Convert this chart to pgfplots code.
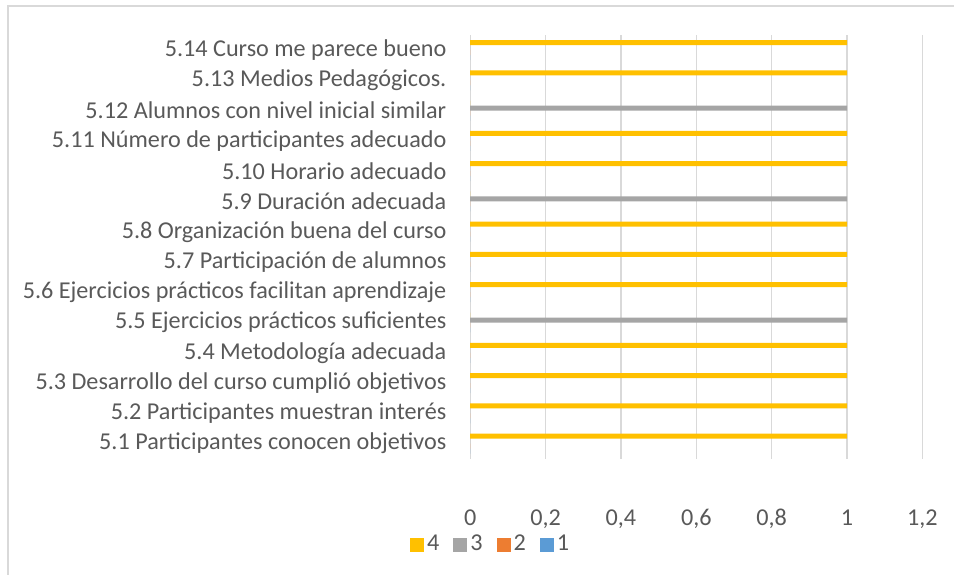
\documentclass[border=0pt]{standalone}
\usepackage{fontspec}
\setmainfont{Carlito}
\usepackage{pgfplots}
\pgfplotsset{compat=1.18}
\definecolor{cfour}{HTML}{FFC000}
\definecolor{cthree}{HTML}{A5A5A5}
\definecolor{ctwo}{HTML}{ED7D31}
\definecolor{cone}{HTML}{5B9BD5}
\definecolor{textc}{HTML}{595959}
\definecolor{gridc}{HTML}{D9D9D9}
\begin{document}
\begin{tikzpicture}[x=0.5pt,y=0.5pt]
\path (0,0) rectangle (955,575);
\draw[gridc, line width=0.6pt] (8,0) -- (8,569) -- (955,569);
\begin{axis}[
    at={(235.25pt,58pt)}, anchor=south west,
    scale only axis, width=226.25pt, height=212pt,
    xbar, bar width=2.5pt,
    xmin=0, xmax=1.2, ymin=0.5, ymax=14.5,
    xtick={0,0.2,0.4,0.6,0.8,1,1.2},
    xticklabels={0,{0,2},{0,4},{0,6},{0,8},1,{1,2}},
    ytick={1,...,14},
    yticklabels={5.1 Participantes conocen objetivos,
                 5.2 Participantes muestran interés,
                 5.3 Desarrollo del curso cumplió objetivos,
                 5.4 Metodología adecuada,
                 5.5 Ejercicios prácticos suficientes,
                 5.6 Ejercicios prácticos facilitan aprendizaje,
                 5.7 Participación de alumnos,
                 5.8 Organización buena del curso,
                 5.9 Duración adecuada,
                 5.10 Horario adecuado,
                 5.11 Número de participantes adecuado,
                 5.12 Alumnos con nivel inicial similar,
                 5.13 Medios Pedagógicos.,
                 5.14 Curso me parece bueno},
    axis line style={draw=none}, major tick length=0pt,
    xmajorgrids, grid style={gridc, line width=0.6pt},
    every tick label/.append style={font=\fontsize{12.1}{14}\selectfont, text=textc},
    xticklabel style={anchor=base, inner sep=0pt, yshift=-33.5pt},
    yticklabel style={anchor=east, inner sep=0pt, xshift=-11.75pt},
    legend style={at={(0.0464,-0.2028)}, anchor=center, draw=none, fill=none,
        legend columns=4, font=\fontsize{12.1}{14}\selectfont, text=textc,
        nodes={inner sep=1.5pt},
        /tikz/every even column/.append style={column sep=5.5pt}},
    legend image code/.code={\fill[#1] (0pt,-3.5pt) rectangle (7pt,3.5pt);},
]
\addplot[draw=none, fill=cfour, bar shift=3.75pt] coordinates {
 (1,1) (1,2) (1,3) (1,4) (0,5) (1,6) (1,7) (1,8) (0,9) (1,10) (1,11) (0,12) (1,13) (1,14)};
\addplot[draw=none, fill=cthree, bar shift=1.25pt] coordinates {
 (0,1) (0,2) (0,3) (0,4) (1,5) (0,6) (0,7) (0,8) (1,9) (0,10) (0,11) (1,12) (0,13) (0,14)};
\addplot[draw=none, fill=ctwo, bar shift=-1.25pt] coordinates {
 (0,1) (0,2) (0,3) (0,4) (0,5) (0,6) (0,7) (0,8) (0,9) (0,10) (0,11) (0,12) (0,13) (0,14)};
\addplot[draw=none, fill=cone, bar shift=-3.75pt] coordinates {
 (0,1) (0,2) (0,3) (0,4) (0,5) (0,6) (0,7) (0,8) (0,9) (0,10) (0,11) (0,12) (0,13) (0,14)};
\legend{4,3,2,1}
\end{axis}
\end{tikzpicture}
\end{document}
